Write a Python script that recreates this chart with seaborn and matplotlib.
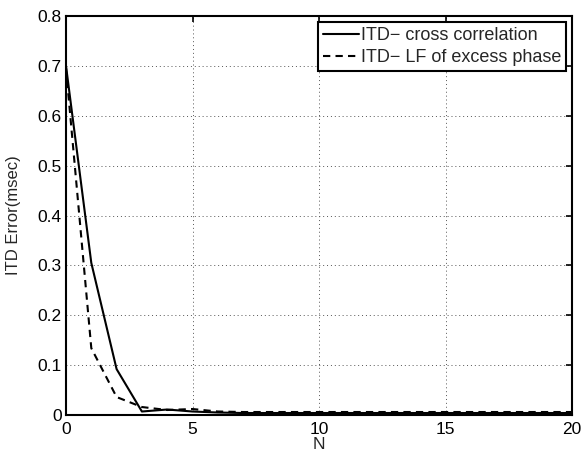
import numpy as np
import pandas as pd
import matplotlib
matplotlib.use("Agg")
import matplotlib.pyplot as plt
import seaborn as sns

# values
n_values = list(range(21))
err_xcorr = [0.700, 0.305, 0.092, 0.007, 0.011, 0.007, 0.005, 0.004, 0.004, 0.004, 0.004,
             0.004, 0.004, 0.004, 0.004, 0.004, 0.004, 0.004, 0.004, 0.004, 0.004]
err_lf = [0.695, 0.134, 0.036, 0.016, 0.010, 0.012, 0.007, 0.006, 0.006, 0.006, 0.006,
          0.006, 0.006, 0.006, 0.006, 0.006, 0.006, 0.006, 0.006, 0.006, 0.006]
series_names = ["ITD\u2212 cross correlation", "ITD\u2212 LF of excess phase"]
x_ticks = [0, 5, 10, 15, 20]
y_ticks = [0, 0.1, 0.2, 0.3, 0.4, 0.5, 0.6, 0.7, 0.8]

df = pd.concat([
    pd.DataFrame({"N": n_values, "err": err_xcorr, "method": series_names[0]}),
    pd.DataFrame({"N": n_values, "err": err_lf, "method": series_names[1]}),
])

sns.set_style("white")
plt.rcParams['font.family'] = ['Liberation Sans', 'DejaVu Sans']
plt.rcParams['font.size'] = 12

fig = plt.figure(figsize=(5.88, 4.53), dpi=100)
ax = fig.add_axes([66/588, 38/453, 506/588, 399/453])

sns.lineplot(data=df, x="N", y="err", hue="method", style="method",
             palette=["black", "black"], dashes=[(None, None), (3.5, 2.5)],
             linewidth=1.5, ax=ax)

ax.set_xlim(0, 20)
ax.set_ylim(0, 0.8)
ax.set_xticks(x_ticks)
ax.set_yticks(y_ticks)
ax.set_xticklabels([str(v) for v in x_ticks])
ax.set_yticklabels(["0"] + ["%.1f" % v for v in y_ticks[1:]])
ax.grid(True, linestyle=(0, (1, 3)), color="#555555", linewidth=0.7)
ax.tick_params(direction="in", length=4, width=1.2, top=True, right=True,
               labelsize=12.5, colors="black")
ax.tick_params(axis="x", pad=5)
ax.tick_params(axis="y", pad=3)
for s in ax.spines.values():
    s.set_linewidth(1.5)
    s.set_color("black")
ax.set_xlabel("N", fontsize=12.5, labelpad=0)
ax.set_ylabel("ITD Error(msec)", fontsize=12, labelpad=12)

leg = ax.legend(loc="upper right", frameon=True, fancybox=False, fontsize=13,
                handlelength=2.0, handletextpad=0.1, borderpad=0.25,
                labelspacing=0.3, borderaxespad=0.35)
leg.get_frame().set_edgecolor("black")
leg.get_frame().set_linewidth(1.5)
leg.get_frame().set_alpha(1)

fig.savefig("out.png", dpi=100)
